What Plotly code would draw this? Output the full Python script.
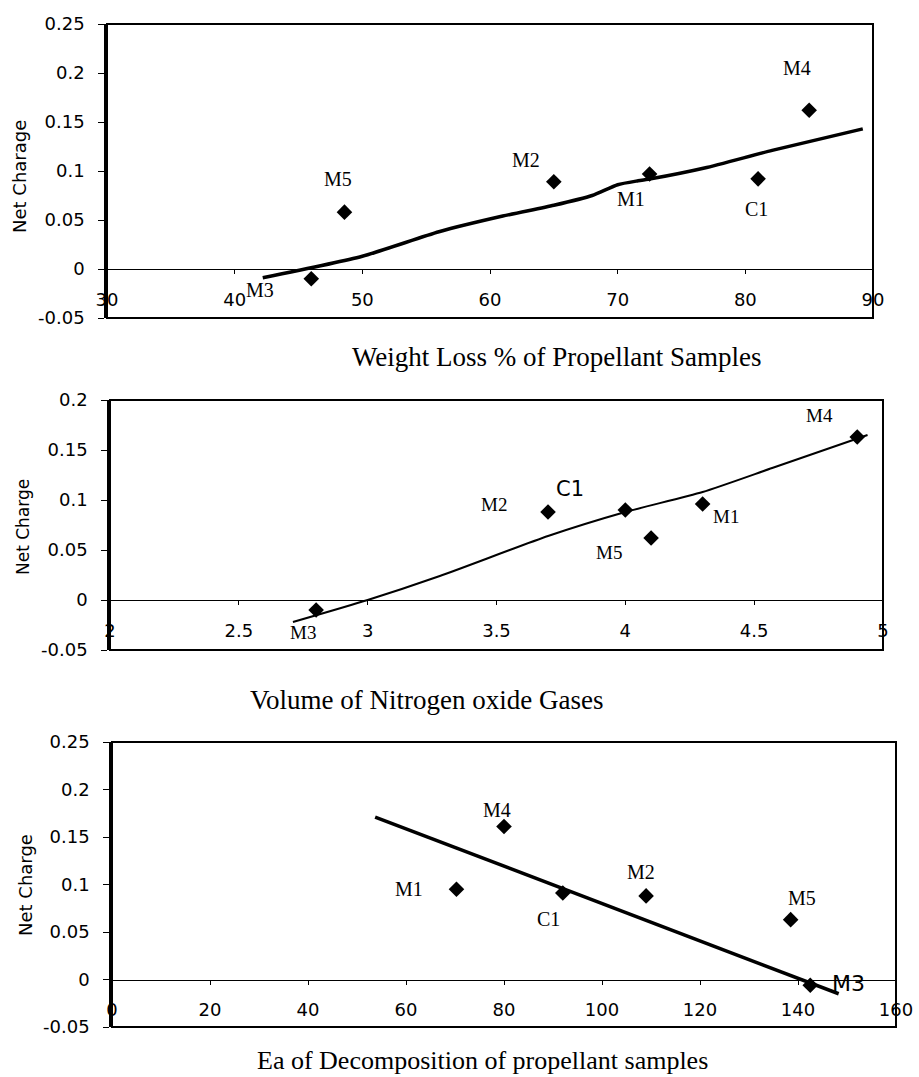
import plotly.graph_objects as go

W, H = 919, 1077

# ---------------- data ----------------
# Panel 1: weight loss %
wl_samples = ["M3", "M5", "M2", "M1", "C1", "M4"]
wl_x = [46.0, 48.6, 65.0, 72.5, 81.0, 85.0]
wl_y = [-0.010, 0.058, 0.089, 0.097, 0.092, 0.162]
wl_trend_x = [42.2, 50, 56, 61, 65, 68, 70, 71.6, 72.6, 76.8, 82.1, 89.2]
wl_trend_y = [-0.009, 0.013, 0.038, 0.054, 0.065, 0.075, 0.086, 0.090, 0.092, 0.103, 0.121, 0.143]

# Panel 2: volume of nitrogen oxide gases
nv_samples = ["M3", "M2", "C1", "M5", "M1", "M4"]
nv_x = [2.80, 3.70, 4.00, 4.10, 4.30, 4.90]
nv_y = [-0.010, 0.088, 0.090, 0.062, 0.096, 0.163]
nv_trend_x = [2.71, 3.0, 3.28, 3.70, 4.0, 4.3, 4.57, 4.94]
nv_trend_y = [-0.022, 0.0, 0.024, 0.064, 0.088, 0.108, 0.132, 0.165]

# Panel 3: Ea of decomposition
ea_samples = ["M1", "M4", "C1", "M2", "M5", "M3"]
ea_x = [70.3, 80.0, 92.0, 109.0, 138.5, 142.5]
ea_y = [0.095, 0.161, 0.091, 0.088, 0.063, -0.006]
ea_trend_x = [53.7, 148.3]
ea_trend_y = [0.171, -0.015]

# axis ticks
x1_ticks = [30, 40, 50, 60, 70, 80, 90]
x2_ticks = [2, 2.5, 3, 3.5, 4, 4.5, 5]
x2_text = ["2", "2.5", "3", "3.5", "4", "4.5", "5"]
x3_ticks = [0, 20, 40, 60, 80, 100, 120, 140, 160]
y1_ticks = [-0.05, 0, 0.05, 0.1, 0.15, 0.2, 0.25]
y1_text = ["-0.05", "0", "0.05", "0.1", "0.15", "0.2", "0.25"]
y2_ticks = [-0.05, 0, 0.05, 0.1, 0.15, 0.2]
y2_text = ["-0.05", "0", "0.05", "0.1", "0.15", "0.2"]

x_titles = ["Weight Loss % of Propellant Samples",
            "Volume of Nitrogen oxide Gases",
            "Ea of Decomposition of propellant samples"]
y_titles = ["Net Charage", "Net Charge", "Net Charge"]

# ---------------- layout geometry (pixels) ----------------
panels = [
    dict(px=(107, 873), py=(24, 318), xr=[30, 90], yr=[-0.05, 0.25]),
    dict(px=(110, 883), py=(400, 650), xr=[2, 5], yr=[-0.05, 0.2]),
    dict(px=(112, 896), py=(742, 1027), xr=[0, 160], yr=[-0.05, 0.25]),
]

SERIF = "Liberation Serif, Times New Roman, serif"
SANS = "DejaVu Sans, Arial, sans-serif"

fig = go.Figure()

series = [
    (wl_samples, wl_x, wl_y, wl_trend_x, wl_trend_y, 3.5, "spline"),
    (nv_samples, nv_x, nv_y, nv_trend_x, nv_trend_y, 2.0, "spline"),
    (ea_samples, ea_x, ea_y, ea_trend_x, ea_trend_y, 3.5, "linear"),
]

for i, (names, xs, ys, tx, ty, lw, shape) in enumerate(series):
    xa = "x" if i == 0 else f"x{i+1}"
    ya = "y" if i == 0 else f"y{i+1}"
    fig.add_trace(go.Scatter(x=tx, y=ty, mode="lines", xaxis=xa, yaxis=ya,
                             line=dict(color="black", width=lw, shape=shape, smoothing=0.6),
                             showlegend=False, hoverinfo="skip"))
    fig.add_trace(go.Scatter(x=xs, y=ys, mode="markers", xaxis=xa, yaxis=ya,
                             marker=dict(symbol="diamond", size=12, color="black"),
                             text=names, showlegend=False))

layout = dict(template="none", width=W, height=H,
              margin=dict(l=0, r=0, t=0, b=0, pad=0, autoexpand=False), autosize=False,
              paper_bgcolor="white", plot_bgcolor="white", showlegend=False)

shapes = []
annotations = []
tick_sets = [
    (x1_ticks, [str(v) for v in x1_ticks], y1_ticks, y1_text),
    (x2_ticks, x2_text, y2_ticks, y2_text),
    (x3_ticks, [str(v) for v in x3_ticks], y1_ticks, y1_text),
]
for i, p in enumerate(panels):
    sfx = "" if i == 0 else str(i + 1)
    x0, x1 = p["px"]
    ytop, ybot = p["py"]
    xd = [x0 / W, x1 / W]
    yd = [1 - ybot / H, 1 - ytop / H]
    ymin, ymax = p["yr"]
    zero_pos = yd[0] + (0 - ymin) / (ymax - ymin) * (yd[1] - yd[0])
    xt, xtt, yt, ytt = tick_sets[i]
    layout["xaxis" + sfx] = dict(
        domain=xd, range=p["xr"], anchor="free", position=zero_pos,
        automargin=False, showgrid=False, zeroline=False, showline=True,
        linecolor="black", linewidth=1.2, ticks="outside", ticklen=4,
        tickcolor="black", tickvals=xt, ticktext=xtt, ticklabelstandoff=10,
        tickfont=dict(family=SANS, size=18, color="black"), fixedrange=True)
    layout["yaxis" + sfx] = dict(
        domain=yd, range=p["yr"], anchor="x" + sfx, automargin=False, showgrid=False,
        zeroline=False, showline=True, linecolor="black", linewidth=2.5,
        ticks="outside", ticklen=6, tickcolor="black", tickvals=yt,
        ticktext=ytt, ticklabelstandoff=10,
        tickfont=dict(family=SANS, size=18, color="black"), fixedrange=True)
    shapes.append(dict(type="rect", xref=("x" + sfx) + " domain", yref=("y" + sfx) + " domain",
                       x0=0, x1=1, y0=0, y1=1, line=dict(color="black", width=2)))

# axis titles (pixel centres)
x_title_pos = [(557, 357), (426, 700), (483, 1060)]
x_title_size = [27, 27, 26]
y_title_pos = [(20, 177), (23, 527), (25, 885)]
y_title_size = [18, 17, 18]
for i in range(3):
    cx, cy = x_title_pos[i]
    annotations.append(dict(text=x_titles[i], xref="paper", yref="paper",
                            x=cx / W, y=1 - cy / H, showarrow=False,
                            xanchor="center", yanchor="middle",
                            font=dict(family=SERIF, size=x_title_size[i], color="black")))
    cx, cy = y_title_pos[i]
    annotations.append(dict(text=y_titles[i], xref="paper", yref="paper",
                            x=cx / W, y=1 - cy / H, showarrow=False, textangle=-90,
                            xanchor="center", yanchor="middle",
                            font=dict(family=SANS, size=y_title_size[i], color="black")))

# point-label offsets in screen pixels (dx right, dy down) and fonts
label_style = [
    {"M3": (-51, 11, SERIF, 20), "M5": (-6, -33, SERIF, 20), "M2": (-28, -22, SERIF, 20),
     "M1": (-19, 25, SERIF, 20), "C1": (-2, 30, SERIF, 20), "M4": (-12, -42, SERIF, 20)},
    {"M3": (-13, 22, SERIF, 19), "M2": (-54, -8, SERIF, 19), "C1": (-55, -21, SANS, 21),
     "M5": (-42, 14, SERIF, 19), "M1": (23, 12, SERIF, 19), "M4": (-38, -22, SERIF, 19)},
    {"M1": (-47, 0, SERIF, 20), "M4": (-7, -17, SERIF, 20), "C1": (-14, 26, SERIF, 20),
     "M2": (-5, -24, SERIF, 20), "M5": (11, -22, SERIF, 20), "M3": (38, -2, SANS, 22)},
]
for i, (names, xs, ys, *_rest) in enumerate(series):
    sfx = "" if i == 0 else str(i + 1)
    for n, xv, yv in zip(names, xs, ys):
        dx, dy, fam, sz = label_style[i][n]
        annotations.append(dict(text=n, x=xv, y=yv, xref="x" + sfx, yref="y" + sfx,
                                xshift=dx, yshift=-dy, showarrow=False,
                                xanchor="center", yanchor="middle",
                                font=dict(family=fam, size=sz, color="black")))

layout["shapes"] = shapes
layout["annotations"] = annotations
fig.update_layout(**layout)
fig.write_html("out.html")
